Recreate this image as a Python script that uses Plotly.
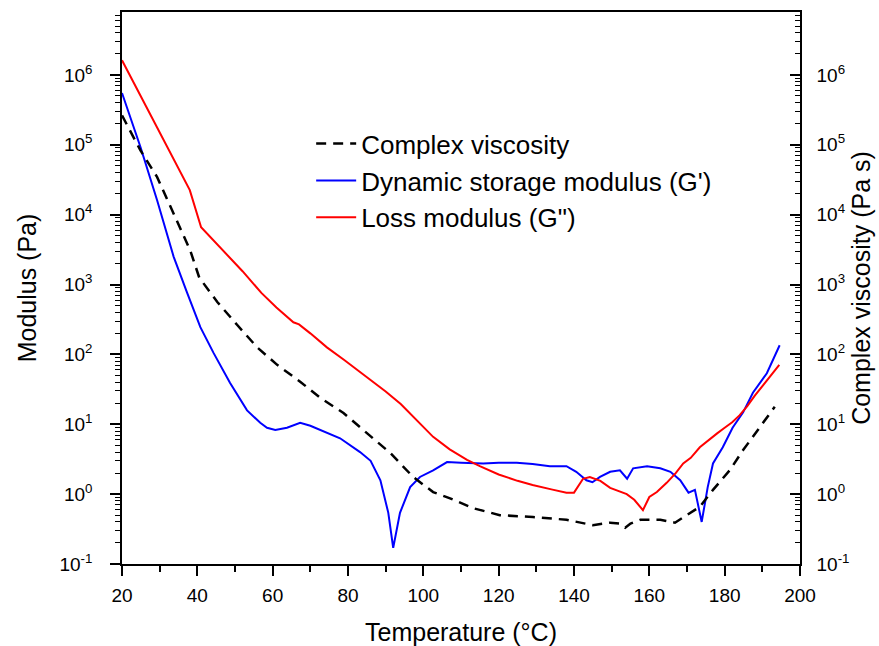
import plotly.graph_objects as go

# Loss modulus G'' (Pa)
t_loss = [20, 25, 30, 35, 38, 41, 44, 48, 52, 57, 61, 65.5, 67, 70, 74.4, 79, 83.2, 86, 90, 94, 98,
          102.6, 107, 111.6, 115, 120, 125, 129, 134, 138, 140, 142.4, 144.2, 147, 149.6, 152, 154,
          156, 158.3, 160, 162, 164.6, 167, 169, 171, 173.4, 176, 178, 180, 182, 184, 186, 188, 190,
          192, 194.5]
g_loss = [1.62e6, 4.9e5, 1.48e5, 4.57e4, 2.24e4, 6.6e3, 4.47e3, 2.63e3, 1.55e3, 759, 468, 288, 269,
          200, 126, 83, 56, 42.7, 29.5, 19.5, 11.7, 6.6, 4.37, 3.09, 2.51, 1.91, 1.55, 1.35, 1.17,
          1.05, 1.05, 1.66, 1.76, 1.55, 1.23, 1.10, 1.0, 0.83, 0.59, 0.91, 1.07, 1.45, 2.0, 2.75,
          3.31, 4.68, 6.17, 7.41, 8.9, 10.7, 13.5, 18.2, 25.7, 34.7, 46.8, 70.8]

# Dynamic storage modulus G' (Pa)
t_stor = [20, 24.9, 29.3, 33.7, 37.3, 40.8, 44.3, 48.7, 53.2, 56.7, 58.5, 60.7, 63.8, 67.3, 70, 72.6,
          77.9, 83.2, 86, 88.6, 90.7, 92, 93.8, 96.5, 99.1, 102.6, 106.3, 110, 115.9, 120, 124.8,
          129, 133.6, 138, 140.6, 143.3, 144.9, 146.9, 149.6, 152.2, 154.1, 155.7, 159.4, 162.9,
          165.6, 168.2, 170.4, 172.1, 173.9, 175.5, 176.9, 179.5, 182.1, 184.9, 187.5, 191.2, 194.6]
g_stor = [5.5e5, 9.3e4, 1.62e4, 2.51e3, 759, 245, 105, 38.9, 15.8, 10.5, 8.9, 8.3, 8.9, 10.5, 9.5,
          8.3, 6.3, 4.0, 3.0, 1.58, 0.54, 0.17, 0.54, 1.26, 1.76, 2.19, 2.88, 2.82, 2.75, 2.82, 2.82,
          2.69, 2.51, 2.51, 2.09, 1.58, 1.48, 1.76, 2.09, 2.19, 1.66, 2.34, 2.51, 2.34, 2.09, 1.58,
          1.05, 1.15, 0.40, 1.26, 2.75, 4.68, 8.9, 14.8, 28.2, 53.7, 135]

# Complex viscosity (Pa s)
t_visc = [20, 24.9, 29.3, 34.6, 38.1, 40.5, 45.3, 50.6, 55.9, 61.2, 67.3, 72.6, 78.8, 85.1, 91.2,
          97.3, 102.6, 107.1, 113.2, 120.3, 129.1, 138, 145, 149.6, 152, 153.6, 155, 157.6, 162.9,
          166.8, 170, 173.4, 176.9, 181.4, 184.9, 189.3, 193.3]
eta = [2.63e5, 8.3e4, 3.47e4, 8.3e3, 3.09e3, 1.26e3, 562, 263, 126, 70.8, 40.7, 24.0, 14.5, 7.4,
       3.89, 1.76, 1.07, 0.87, 0.63, 0.50, 0.47, 0.43, 0.36, 0.39, 0.38, 0.33, 0.38, 0.43, 0.43,
       0.39, 0.50, 0.66, 1.15, 2.21, 4.27, 8.9, 17.8]

x_ticks = [20, 40, 60, 80, 100, 120, 140, 160, 180, 200]
x_minor = [30, 50, 70, 90, 110, 130, 150, 170, 190]
exps = [-1, 0, 1, 2, 3, 4, 5, 6]
y_ticks = [10.0 ** e for e in exps]
y_text = ["10<sup>%d</sup>" % e for e in exps]
y_minor = [m * 10.0 ** e for e in range(-1, 7) for m in range(2, 10) if m * 10.0 ** e < 8e6]

FONT = "Liberation Sans, Arial, sans-serif"

fig = go.Figure()
fig.add_trace(go.Scatter(x=t_visc, y=eta, name="Complex viscosity", mode="lines",
                         line=dict(color="black", width=2.5, dash="10px,7px"), yaxis="y2"))
fig.add_trace(go.Scatter(x=t_stor, y=g_stor, name="Dynamic storage modulus (G')", mode="lines",
                         line=dict(color="#0000ff", width=2)))
fig.add_trace(go.Scatter(x=t_loss, y=g_loss, name='Loss modulus (G")', mode="lines",
                         line=dict(color="#ff0000", width=2)))

yrange = [-1, 6.9]
axis_common = dict(
    type="log", range=yrange, tickmode="array", tickvals=y_ticks, ticktext=y_text,
    showgrid=False, zeroline=False, showline=True, linecolor="black", linewidth=1.5,
    ticklen=10, tickwidth=1.5, tickcolor="black", automargin=False,
    tickfont=dict(family=FONT, size=19, color="black"),
)

fig.update_layout(
    width=879, height=646,
    margin=dict(l=122, r=79, t=12, b=82),
    paper_bgcolor="white", plot_bgcolor="white",
    font=dict(family=FONT, color="black"),
    showlegend=True,
    legend=dict(x=0.279, y=0.804, xanchor="left", yanchor="top",
                bgcolor="rgba(0,0,0,0)", font=dict(family=FONT, size=26, color="black"),
                itemwidth=40, tracegroupgap=0),
    xaxis=dict(
        range=[20, 200], tickmode="array", tickvals=x_ticks, automargin=False,
        showgrid=False, zeroline=False, showline=True, mirror=True,
        linecolor="black", linewidth=1.5, ticks="outside", ticklen=10, tickwidth=1.5,
        tickcolor="black", tickfont=dict(family=FONT, size=19, color="black"),
        ticklabelstandoff=3,
        minor=dict(tickmode="array", tickvals=x_minor, ticks="outside", ticklen=6,
                   tickwidth=1.5, tickcolor="black"),
        title=dict(text="Temperature (°C)", font=dict(family=FONT, size=25, color="black"),
                   standoff=20),
    ),
    yaxis=dict(
        **axis_common, ticks="outside", side="left", ticklabelstandoff=14,
        minor=dict(tickmode="array", tickvals=y_minor, ticks="outside", ticklen=5,
                   tickwidth=1.2, tickcolor="black"),
        title=dict(text="Modulus (Pa)", font=dict(family=FONT, size=25, color="black"),
                   standoff=16),
    ),
    yaxis2=dict(
        **axis_common, ticks="inside", side="right", overlaying="y", anchor="x",
        ticklabelstandoff=11,
        minor=dict(tickmode="array", tickvals=y_minor, ticks="inside", ticklen=5,
                   tickwidth=1.2, tickcolor="black"),
        title=dict(text="Complex viscosity (Pa s)", font=dict(family=FONT, size=25, color="black"),
                   standoff=4),
    ),
)

fig.write_html("out.html")
